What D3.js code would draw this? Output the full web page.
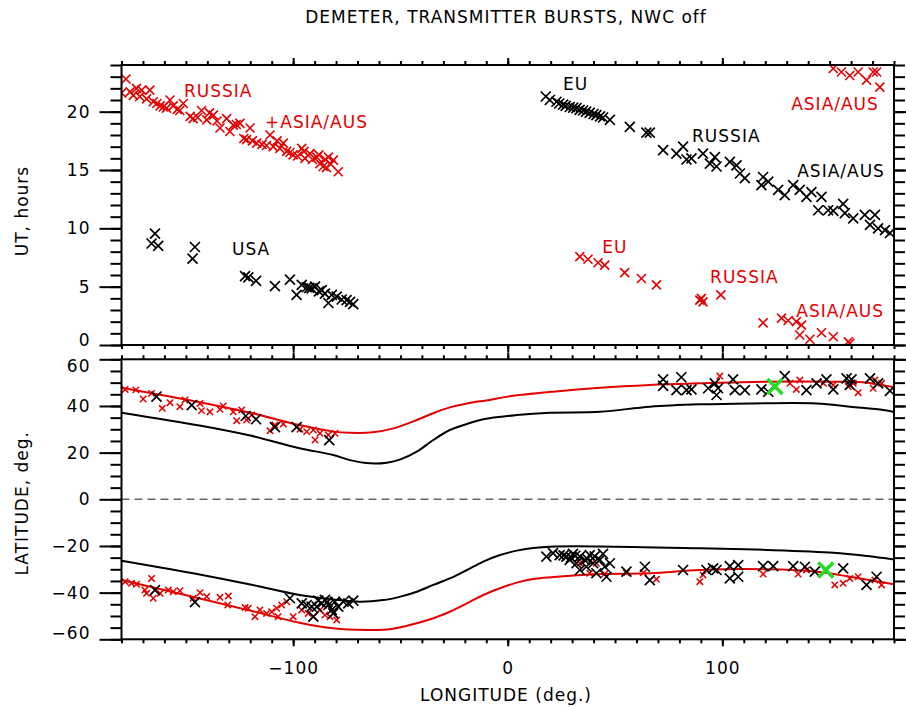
<!DOCTYPE html>
<html>
<head>
<meta charset="utf-8">
<script src="https://cdn.jsdelivr.net/npm/d3@7"></script>
<style>
  body { margin: 0; background: #fff; }
  text { font-family: "DejaVu Sans", sans-serif; }
</style>
</head>
<body>
<script>
// UT (hours) vs longitude, top panel
var topRedWest = [[-177.9,22.8],[-180,21.6],[-174.5,21.4],[-173,22.0],[-170.6,21.85],[-166.8,21.85],[-168.3,21.1],[-165.2,20.85],
  [-162,20.5],[-157.4,21.0],[-155.9,20.5],[-152.8,20.1],[-151.2,20.7],[-159,20.3],[-146.6,19.4],[-142.7,20.1],[-140.3,19.3],
  [-137.2,19.7],[-134.1,18.6],[-131,19.4],[-129.5,18.3],[-127.9,18.85],[-124.8,19.0],[-121.7,17.6],[-120.1,18.6],[-117,17.3],
  [-112.4,17.1],[-110.8,18.0],[-109.3,17.0],[-106.2,16.85],[-104.6,17.3],[-103,16.6],[-100,16.3],[-96,16.85],[-94.5,16.0],
  [-92.2,16.4],[-89,16.1],[-87.5,15.55],[-86,15.3],[-83.6,16.1],[-81.3,15.85],[-79,14.85],
  [-176,21.7],[-171.5,21.3],[-163.5,20.7],[-160.5,20.4],[-154,20.2],[-148,19.6],[-144.5,19.5],[-139,19.9],[-135.5,19.2],
  [-126.5,18.9],[-123,17.7],[-119,17.5],[-114.5,17.2],[-107.5,17.5],[-101.5,16.5],[-98,16.2],[-95,16.6],[-91,15.9],
  [-88,16.3],[-85,15.9],[-82.5,15.5],[-84.5,15.2]];
var topBlackUSA = [[-166,8.7],[-164.4,9.55],[-162.9,8.5],[-146.9,7.4],[-145.8,8.4],[-122.4,5.9],[-120.9,5.8],[-117.3,5.5],
  [-108.5,5.05],[-101.5,5.6],[-98.4,4.3],[-96,5.15],[-93.7,4.95],[-91.4,4.85],[-89.8,5.0],[-86.7,4.7],[-85.2,4.4],
  [-83.6,3.6],[-82,4.3],[-79.7,4.15],[-77.4,3.9],[-75.1,3.85],[-72,3.5],[-73.5,3.7],[-92.5,4.9],[-88,4.6]];
var topBlackEast = [[17.7,21.3],[19.6,21.0],[22.7,20.85],[25.8,20.6],[28.9,20.4],[32,20.3],[35.1,20.1],[38.2,19.9],
  [41.3,19.7],[44.4,19.5],[47.6,19.3],[24,20.7],[27,20.5],[30.5,20.35],[33.5,20.15],[36.5,20.0],[40,19.8],[43,19.6],
  [56.9,18.7],[64.6,18.2],[66.2,18.2],[72.4,16.7],[78.6,16.4],[81.7,17.0],[83.3,15.9],[85.6,16.0],[91,16.4],[94.2,15.55],
  [96.5,16.1],[97.3,15.3],[103.5,15.7],[106.6,15.4],[108.2,14.7],[110.5,14.3],[119,14.4],[118.2,13.7],[121.4,14.0],
  [126,13.3],[129.1,12.85],[133,13.7],[136.1,13.3],[139.2,12.7],[141.5,13.1],[144.7,11.55],[146.2,12.7],[149.3,11.55],
  [151.7,11.5],[156.3,12.1],[157.1,11.3],[161,10.85],[166.4,11.15],[168.8,10.3],[171.1,11.15],[172.6,10.0],[175.8,9.85],[178.1,9.6]];
var topRedEast = [[151.7,23.7],[155.5,23.4],[159.4,23.1],[163.3,23.4],[167.2,22.7],[170.3,23.4],[171.9,23.4],[173.4,22.1],
  [33.6,7.57],[37.4,7.35],[42.1,7.05],[45.2,6.85],[54.5,6.2],[62.3,5.7],[69.3,5.15],
  [89.5,3.85],[91,3.7],[90.2,4.0],[99.3,4.3],
  [119,1.9],[127.6,2.3],[130.7,2.1],[134.5,2.0],[136.9,1.7],[136.1,0.86],[140.8,0.49],[146.2,1.05],[151.7,0.71],[158.7,0.28],[159.4,0.14]];

// latitude vs longitude, bottom panel
var botRedNorth = [[-178.3,47.1],[-173.3,46.9],[-169.9,43],[-166,45.4],[-161,39],[-157.4,41.4],[-152.8,39.7],[-150.4,42.6],
  [-142.7,38],[-138.8,37.5],[-143.4,41.1],[-134.1,38.6],[-132.6,40],[-127.9,37.5],[-126.3,33.7],[-124,38.3],[-121.7,34],
  [-119.3,36.1],[-110.8,29.4],[-108.5,31.8],[-104.6,32.3],[-96.8,30],[-93.7,29],[-90.6,29.7],[-89.8,25.4],[-87.5,28.3],
  [-83.6,27.6],[-80.5,28.3],
  [98.8,52.8],[131.5,49.7],[134.5,47.1],[136.1,51.1],[147.1,49.7],[151.7,49],[158.7,48.3],[161,49.7],[163.3,45.7],
  [170.3,47.6],[171.1,51.1],[174.2,49.7]];
var botBlackNorth = [[-163.7,44],[-147.3,40.4],[-122.1,35.7],[-117.3,34.3],[-108.5,30.9],[-98.4,30.9],[-83.2,25.4],
  [72.4,51.4],[72.4,48.6],[80.9,52.3],[78.6,46.8],[83.3,46.8],[85.6,47.1],[93.4,47.6],[96.5,49.7],[97.3,44.7],[98,47.6],
  [105,51.4],[105.8,46.8],[110.5,46.8],[118.2,47.1],[121.4,46.1],[129.1,52.8],[139.2,46.8],[143.9,49.7],[148.5,51.4],
  [151.7,47.1],[157.9,51.8],[160.2,51.4],[159.4,49],[168.8,51.8],[172.6,49.7],[178.1,46.5]];
var botRedSouth = [[-178.3,-35.3],[-175.3,-36],[-173,-36.4],[-169.1,-38.9],[-166,-33.9],[-168.3,-40.3],[-165.2,-42.4],
  [-162,-40.3],[-158.2,-38.9],[-155.9,-39.6],[-152.8,-39.2],[-146.6,-42.4],[-143.4,-40],[-140.3,-41.7],[-134.1,-42],
  [-130.2,-41.4],[-130.5,-45.3],[-122.4,-46.4],[-120.9,-46.7],[-117.8,-50.3],[-115.5,-47.4],[-112.4,-48.9],[-110,-48.2],
  [-107.7,-46.7],[-107,-50.3],[-105.4,-45.3],[-103,-43.9],[-100,-50.3],[-96,-47.4],[-93,-48.9],[-90.6,-50.3],[-87.5,-47.4],
  [-85.2,-49.6],[-82.8,-50.3],[-79.7,-51.7],
  [33.6,-27.4],[38.2,-31.7],[41.3,-27.4],[45.2,-32],[55.3,-31.5],[63.2,-31.5],[69.3,-34.3],[89.5,-35.3],[91,-32.4],
  [119,-32],[135.3,-32],[139.2,-30.3],[152.4,-36.7],[156.3,-36],[159.4,-33.9],[163.3,-33.2],[171.1,-34.6],[174.2,-36.7]];
var botBlackSouth = [[-164.4,-38.9],[-145.8,-44.1],[-101.5,-42.4],[-96,-44.6],[-93.7,-45.3],[-91.4,-46],[-90.6,-50.3],
  [-88.3,-43.4],[-86.7,-44.6],[-85.2,-43.1],[-83.6,-45.3],[-82,-47.4],[-81.3,-48.9],[-80.5,-43.9],[-79,-46],[-76.6,-43.9],
  [-74.3,-44.6],[-72,-43.4],[-89,-46],[-84,-44],
  [18,-24.6],[21.1,-23.1],[24.2,-23.9],[27.3,-24.6],[28.9,-26],[30.4,-23.4],[32,-27.4],[33.6,-24.6],[33.6,-30.3],
  [35.9,-26],[36.6,-28.9],[38.2,-23.9],[39.8,-27.4],[41.3,-31.7],[42.9,-26],[44.4,-23.4],[45.2,-28.9],[47.6,-27.4],
  [46,-33.2],[26,-24],[29.5,-25],[31.5,-24.2],[37,-25.5],[40.5,-24.5],
  [55.3,-31],[63.9,-28.9],[66.2,-34.6],[81.7,-30.3],[92.6,-30.3],[95.7,-29.6],[97.3,-30.3],[103.5,-28.6],[103.5,-33.9],
  [107.4,-28.2],[107.4,-33.2],[119,-28.6],[123.7,-28.6],[133,-28.6],[138.5,-28.9],[143.1,-31],[156.3,-29.6],[167.2,-36.7],[171.9,-33.2]];
var greenPts = [[124.5,48.3],[148.2,-30.3]];

// model curves
var redNorth = [[-180,47.8],[-143,41.5],[-120,37.1],[-97,31.8],[-81.3,29],[-73.5,28.5],[-63,28.7],[-53.3,30.4],[-42.4,34],
  [-34.7,36.9],[-27,39.4],[-19,41.1],[-8.3,42.6],[0,44],[21,46.1],[43,47.8],[66.3,49],[89.6,49.7],[120.7,50.4],
  [151.8,50.4],[167.4,50],[180,48]];
var blackNorth = [[-180,37.1],[-143,31.5],[-120,27.3],[-97,21.9],[-81.3,19],[-73.5,16.8],[-64,15.4],[-56.4,15.7],[-50,17.1],
  [-42.4,20.4],[-34.7,25.4],[-27,29.7],[-19,32.3],[-11.4,34.3],[4.2,36.1],[19.7,37.1],[43,37.5],[66.3,39.7],[89.6,40.7],
  [113,41.1],[144,41.1],[159.6,39.7],[175.1,38.3],[180,37.4]];
var blackSouth = [[-180,-26.3],[-143,-32.3],[-120,-36.5],[-97,-41],[-81.3,-42.9],[-69,-43.9],[-58,-43.2],[-50,-41.7],
  [-42.4,-39.6],[-34.7,-36.7],[-27,-33.9],[-19,-30.3],[-11.4,-26.7],[-3.6,-23.9],[4.2,-22],[11.9,-20.9],[19.7,-20.3],
  [43,-20.2],[89.6,-21],[120.7,-21.7],[151.8,-22.9],[167.4,-24.3],[180,-25.8]];
var redSouth = [[-180,-34.6],[-143,-42.6],[-120,-47.7],[-97,-52.9],[-81.3,-55.3],[-65.7,-56],[-55,-55.7],[-42.4,-53.1],
  [-34.7,-51],[-27,-48.2],[-19,-44.6],[-11.4,-41],[-3.6,-38.1],[4.2,-35.7],[11.9,-34.2],[27.5,-32.9],[43,-32],[66.3,-31.7],
  [89.6,-30.3],[120.7,-30],[144,-31],[159.6,-33.2],[180,-36.4]];

var utTicks = [0, 5, 10, 15, 20];
var latTicks = [-60, -40, -20, 0, 20, 40, 60];
var lonTicks = [-100, 0, 100];

// region labels: [text, lon, UT, colour]
var topLabels = [["RUSSIA",-150.9,21.25,"red"],["+ASIA/AUS",-113.1,18.6,"red"],["USA",-128.5,7.7,"black"],
  ["EU",25.8,21.85,"black"],["RUSSIA",85.9,17.4,"black"],["ASIA/AUS",134.9,14.4,"black"],["ASIA/AUS",132.1,20.15,"red"],
  ["EU",44,7.9,"red"],["RUSSIA",94.3,5.3,"red"],["ASIA/AUS",134.5,2.4,"red"]];

var RED = "#e30000", GREEN = "#22dd22";

var svg = d3.select("body").append("svg")
    .attr("width", 906)
    .attr("height", 707)
    .style("background", "#fff");

var x = d3.scaleLinear().domain([-180, 180]).range([121.5, 894]);
var yTop = d3.scaleLinear().domain([0, 24]).range([345, 65]);
var yBot = d3.scaleLinear().domain([-60, 60]).range([639.3, 359.3]);

var defs = svg.append("defs");
defs.append("clipPath").attr("id", "clipTop").append("rect")
    .attr("x", x(-180)).attr("y", yTop(24)).attr("width", x(180) - x(-180)).attr("height", yTop(0) - yTop(24));
defs.append("clipPath").attr("id", "clipBot").append("rect")
    .attr("x", x(-180)).attr("y", yBot(60)).attr("width", x(180) - x(-180)).attr("height", yBot(-60) - yBot(60));

function cross(s) {
  return "M" + (-s) + "," + (-s) + "L" + s + "," + s + "M" + (-s) + "," + s + "L" + s + "," + (-s);
}

function drawMarks(g, data, y, color, size, width) {
  g.append("g").selectAll("path")
    .data(data)
    .enter().append("path")
    .attr("transform", function(d) { return "translate(" + x(d[0]) + "," + y(d[1]) + ")"; })
    .attr("d", cross(size))
    .attr("fill", "none")
    .attr("stroke", color)
    .attr("stroke-width", width);
}

function styleAxis(g) {
  g.select(".domain").remove();
  g.selectAll("line").attr("stroke", "#000").attr("stroke-width", 2);
  g.attr("font-family", "DejaVu Sans, sans-serif").attr("font-size", 17).attr("letter-spacing", 1);
  g.selectAll("text").attr("fill", "#000");
}

function frameAxes(y, major, minor, top, bottom, labelX, nudge) {
  var minorX = d3.range(-180, 181, 10);
  svg.append("g").attr("transform", "translate(" + x(-180) + ",0)")
    .call(d3.axisLeft(y).tickValues(minor).tickSize(11).tickFormat(""))
    .call(styleAxis);
  svg.append("g").attr("transform", "translate(" + x(-180) + ",0)")
    .call(d3.axisLeft(y).tickValues(major).tickSize(22).tickPadding(9).tickFormat(d3.format("d")))
    .call(styleAxis)
    .selectAll("text").attr("y", function(d) { return nudge[d] || 0; });
  svg.append("g").attr("transform", "translate(" + x(180) + ",0)")
    .call(d3.axisRight(y).tickValues(minor).tickSize(11).tickFormat(""))
    .call(styleAxis);
  svg.append("g").attr("transform", "translate(" + x(180) + ",0)")
    .call(d3.axisRight(y).tickValues(major).tickSize(22).tickFormat(""))
    .call(styleAxis);
  svg.append("g").attr("transform", "translate(0," + top + ")")
    .call(d3.axisTop(x).tickValues(minorX).tickSize(4).tickFormat(""))
    .call(styleAxis);
  svg.append("g").attr("transform", "translate(0," + top + ")")
    .call(d3.axisTop(x).tickValues(lonTicks).tickSize(7).tickFormat(""))
    .call(styleAxis);
  svg.append("g").attr("transform", "translate(0," + bottom + ")")
    .call(d3.axisBottom(x).tickValues(minorX).tickSize(4).tickFormat(""))
    .call(styleAxis);
  svg.append("g").attr("transform", "translate(0," + bottom + ")")
    .call(d3.axisBottom(x).tickValues(lonTicks).tickSize(7).tickPadding(16).tickFormat(labelX ? d3.format("d") : ""))
    .call(styleAxis);
  svg.append("rect")
    .attr("x", x(-180)).attr("y", top)
    .attr("width", x(180) - x(-180)).attr("height", bottom - top)
    .attr("fill", "none").attr("stroke", "#000").attr("stroke-width", 2);
}

// ---- top panel
var gTop = svg.append("g").attr("clip-path", "url(#clipTop)");
drawMarks(gTop, topBlackUSA, yTop, "#000", 5, 1.7);
drawMarks(gTop, topBlackEast, yTop, "#000", 5, 1.7);
drawMarks(gTop, topRedWest, yTop, RED, 4.5, 1.6);
drawMarks(gTop, topRedEast, yTop, RED, 4.5, 1.6);

svg.append("g").selectAll("text")
    .data(topLabels)
    .enter().append("text")
    .attr("x", function(d) { return x(d[1]); })
    .attr("y", function(d) { return yTop(d[2]); })
    .attr("font-size", 17)
    .attr("letter-spacing", 1)
    .attr("fill", function(d) { return d[3] == "red" ? RED : "#000"; })
    .text(function(d) { return d[0]; });

frameAxes(yTop, utTicks, d3.range(0, 25, 1), yTop(24), yTop(0), false, {0: -5});

// ---- bottom panel
var gBot = svg.append("g").attr("clip-path", "url(#clipBot)");
var line = d3.line()
    .x(function(d) { return x(d[0]); })
    .y(function(d) { return yBot(d[1]); })
    .curve(d3.curveCatmullRom.alpha(0.5));

gBot.append("line")
    .attr("x1", x(-180)).attr("x2", x(180))
    .attr("y1", yBot(0)).attr("y2", yBot(0))
    .attr("stroke", "#666").attr("stroke-width", 1.5).attr("stroke-dasharray", "8,5");

[[blackNorth, "#000"], [blackSouth, "#000"], [redNorth, RED], [redSouth, RED]].forEach(function(c) {
  gBot.append("path")
    .datum(c[0])
    .attr("d", line)
    .attr("fill", "none")
    .attr("stroke", c[1])
    .attr("stroke-width", 2);
});

drawMarks(gBot, botRedNorth, yBot, RED, 3.2, 1.5);
drawMarks(gBot, botRedSouth, yBot, RED, 3.2, 1.5);
drawMarks(gBot, botBlackNorth, yBot, "#000", 5, 1.7);
drawMarks(gBot, botBlackSouth, yBot, "#000", 5, 1.7);
drawMarks(gBot, greenPts, yBot, GREEN, 7.5, 3.5);

frameAxes(yBot, latTicks, d3.range(-60, 61, 5), yBot(60), yBot(-60), true, {60: 7, "-60": -6});

// ---- titles
svg.append("text")
    .attr("x", 506).attr("y", 23)
    .attr("text-anchor", "middle")
    .attr("font-size", 17).attr("letter-spacing", 1)
    .text("DEMETER, TRANSMITTER BURSTS, NWC off");

svg.append("text")
    .attr("transform", "translate(28," + ((yTop(0) + yTop(24)) / 2 + 6) + ") rotate(-90)")
    .attr("text-anchor", "middle")
    .attr("font-size", 17).attr("letter-spacing", 1)
    .text("UT, hours");

svg.append("text")
    .attr("transform", "translate(28," + ((yBot(-60) + yBot(60)) / 2 + 4) + ") rotate(-90)")
    .attr("text-anchor", "middle")
    .attr("font-size", 17).attr("letter-spacing", 1)
    .text("LATITUDE, deg.");

svg.append("text")
    .attr("x", 506).attr("y", 701)
    .attr("text-anchor", "middle")
    .attr("font-size", 17).attr("letter-spacing", 1)
    .text("LONGITUDE (deg.)");
</script>
</body>
</html>
